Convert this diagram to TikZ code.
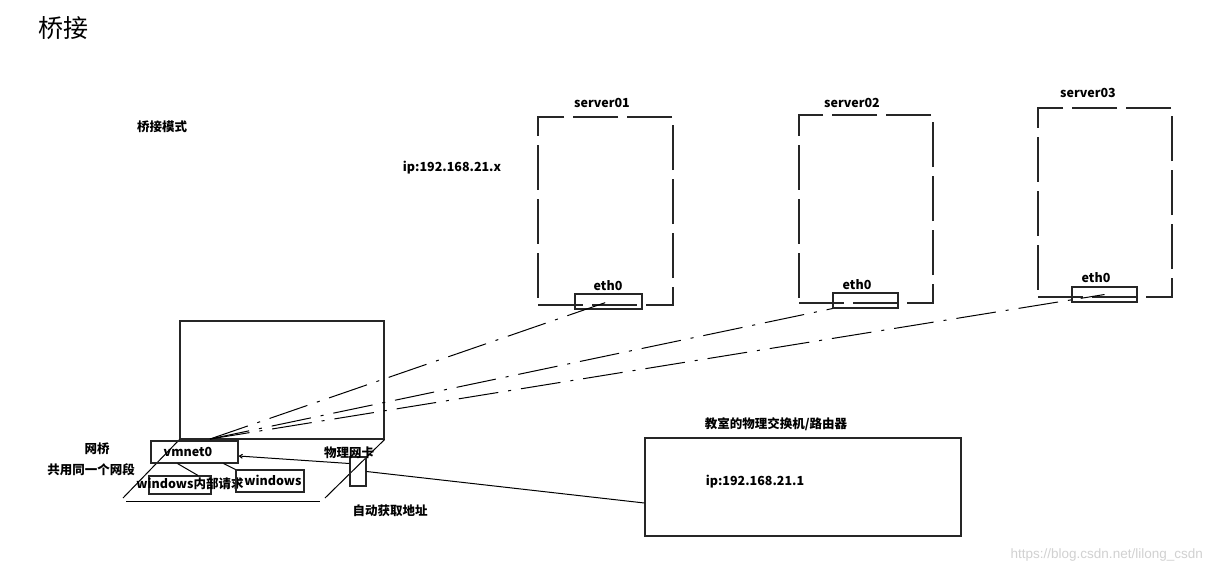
\documentclass[tikz,border=0pt]{standalone}
\usepackage{fontspec}
\usetikzlibrary{arrows.meta}
\setmainfont{Noto Sans CJK SC}
\newfontfamily\wmfont{Liberation Sans}
\begin{document}
\begin{tikzpicture}[x=1pt,y=-1pt,
  box/.style={draw=black!85,line width=1.1pt,inner sep=0pt},
  srv/.style={box,dash pattern=on 45pt off 9pt},
  lbl/.style={font=\bfseries\fontsize{12.5}{14}\selectfont,inner sep=0pt,text=black},
  link/.style={draw=black,line width=1pt,dash pattern=on 40pt off 10pt on 3pt off 10pt},
  wire/.style={draw=black,line width=1pt}]
\useasboundingbox[fill=white] (0,0) rectangle (1212,574);

% title
\node[inner sep=0pt,font=\fontsize{25}{28}\selectfont] (title) at (63,28) {桥接};
\node[lbl] (mode) at (162,127) {桥接模式};
\node[lbl] (ipx) at (452,168) {ip:192.168.21.x};

% laptop
\node[box,minimum width=204pt,minimum height=118pt] (screen) at (282,380) {};
\coordinate (bl) at (123,498);
\coordinate (br) at (325,498);
\coordinate (bb1) at (126,501);
\coordinate (bb2) at (320,501);
\draw[wire] (screen.south west) -- (bl);
\draw[wire] (bb1) -- (bb2);
\draw[wire] (screen.south east) -- (br);

\node[box,minimum width=87pt,minimum height=22pt] (vm) at (194.5,452) {};
\node[lbl] (vmt) at (188,452) {vmnet0};
\node[box,minimum width=62pt,minimum height=18pt] (w1) at (180,485) {};
\node[lbl] (w1t) at (190,484) {windows内部请求};
\node[box,minimum width=68pt,minimum height=22pt] (w2) at (270,481) {};
\node[lbl] (w2t) at (273,480) {windows};
\node[box,minimum width=16pt,minimum height=29pt] (nic) at (358,471.5) {};
\node[lbl] (nict) at (349,453) {物理网卡};
\node[lbl] (auto) at (390,511) {自动获取地址};
\node[lbl] (bridge) at (97,449) {网桥};
\node[lbl] (seg) at (91,470) {共用同一个网段};

\draw[wire] ([xshift=-17pt]vm.south) -- ([xshift=18pt]w1.north);
\draw[wire] ([xshift=-15pt]vm.south east) -- (w2.north west);
\draw[wire,-{Straight Barb[length=3pt,width=4pt]}] ([yshift=8pt]nic.west) -- ([yshift=-4pt]vm.east);

% router
\node[box,minimum width=316pt,minimum height=98pt] (router) at (803,487) {};
\node[lbl] (routert) at (776,424) {教室的物理交换机/路由器};
\node[lbl] (ip1) at (755,482) {ip:192.168.21.1};
\draw[wire] (nic.east) -- ([yshift=-16pt]router.west);

% servers
\node[srv,minimum width=135pt,minimum height=188pt] (s1) at (605.5,211) {};
\node[srv,minimum width=134pt,minimum height=188pt] (s2) at (866,209) {};
\node[srv,minimum width=134pt,minimum height=189pt] (s3) at (1105,202.5) {};
\node[lbl] (s1t) at (602,103) {server01};
\node[lbl] (s2t) at (852,103) {server02};
\node[lbl] (s3t) at (1088,93) {server03};
\node[box,minimum width=67pt,minimum height=15pt] (e1) at (608.5,301.5) {};
\node[box,minimum width=65pt,minimum height=15pt] (e2) at (865.5,300.5) {};
\node[box,minimum width=65pt,minimum height=15pt] (e3) at (1104.5,294.5) {};
\node[lbl] (e1t) at (608,286) {eth0};
\node[lbl] (e2t) at (857,285) {eth0};
\node[lbl] (e3t) at (1096,278) {eth0};

% dash-dot links
\coordinate (v) at (210,439);
\draw[link] (v) -- (e1.center);
\draw[link] (v) -- (e2.south west);
\draw[link] (v) -- (e3.center);

% watermark
\node[inner sep=0pt,anchor=east,font=\wmfont\fontsize{13.5}{15}\selectfont,text=black!18] (wm) at (1203,555) {https://blog.csdn.net/lilong\_csdn};
\end{tikzpicture}
\end{document}
